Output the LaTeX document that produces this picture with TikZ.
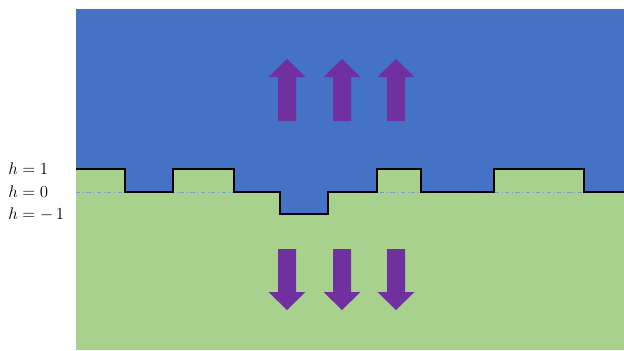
\documentclass[tikz,border=0pt]{standalone}
\usepackage{amsmath}
\usepackage{amssymb}
\usepackage{tikz}
\usetikzlibrary{positioning}

\definecolor{topblue}{RGB}{68,114,196}
\definecolor{botgreen}{RGB}{169,209,142}
\definecolor{fluxpurple}{RGB}{112,48,160}
\definecolor{levelblue}{RGB}{120,155,215}

\tikzset{
  fluxarrow/.style={fill=fluxpurple},
  levellabel/.style={anchor=west, inner sep=0pt, font=\large},
}

\begin{document}
\begin{tikzpicture}[x=0.025cm, y=-0.025cm]
        \useasboundingbox (0,0) rectangle (624,350);

        % two phases
        \fill[topblue] (76,9) rectangle (624,350);
        \fill[botgreen] (76,169) -| (125,192) -| (173,169) -| (234,192) -| (280,214)
              -| (328,192) -| (377,169) -| (421,192) -| (494,169) -| (584,192)
              -- (624,192) -- (624,350) -- (76,350) -- cycle;

        % reference level h=0
        \draw[levelblue, dash dot, line width=0.5pt] (76,192) -- (280,192);
        \draw[levelblue, dash dot, line width=0.5pt] (328,192) -- (624,192);

        % interface
        \draw[line width=1.7pt, line join=miter] (76,169) -| (125,192) -| (173,169) -| (234,192) -| (280,214)
              -| (328,192) -| (377,169) -| (421,192) -| (494,169) -| (584,192) -- (624,192);

        % arrows
        \foreach \x in {287,342,396} {
            \fill[fluxarrow] ({\x-9},121) -- ({\x-9},77) -- ({\x-18.5},77) -- (\x,59)
                  -- ({\x+18.5},77) -- ({\x+9},77) -- ({\x+9},121) -- cycle;
            \fill[fluxarrow] ({\x-9},249) -- ({\x-9},292) -- ({\x-18.5},292) -- (\x,310)
                  -- ({\x+18.5},292) -- ({\x+9},292) -- ({\x+9},249) -- cycle;
        }

        \node[levellabel] (hup) at (8,169) {$h=1$};
        \node[levellabel] (hzero) at (8,192) {$h=0$};
        \node[levellabel] (hdown) at (8,214) {$h=-\,1$};
\end{tikzpicture}
\end{document}
